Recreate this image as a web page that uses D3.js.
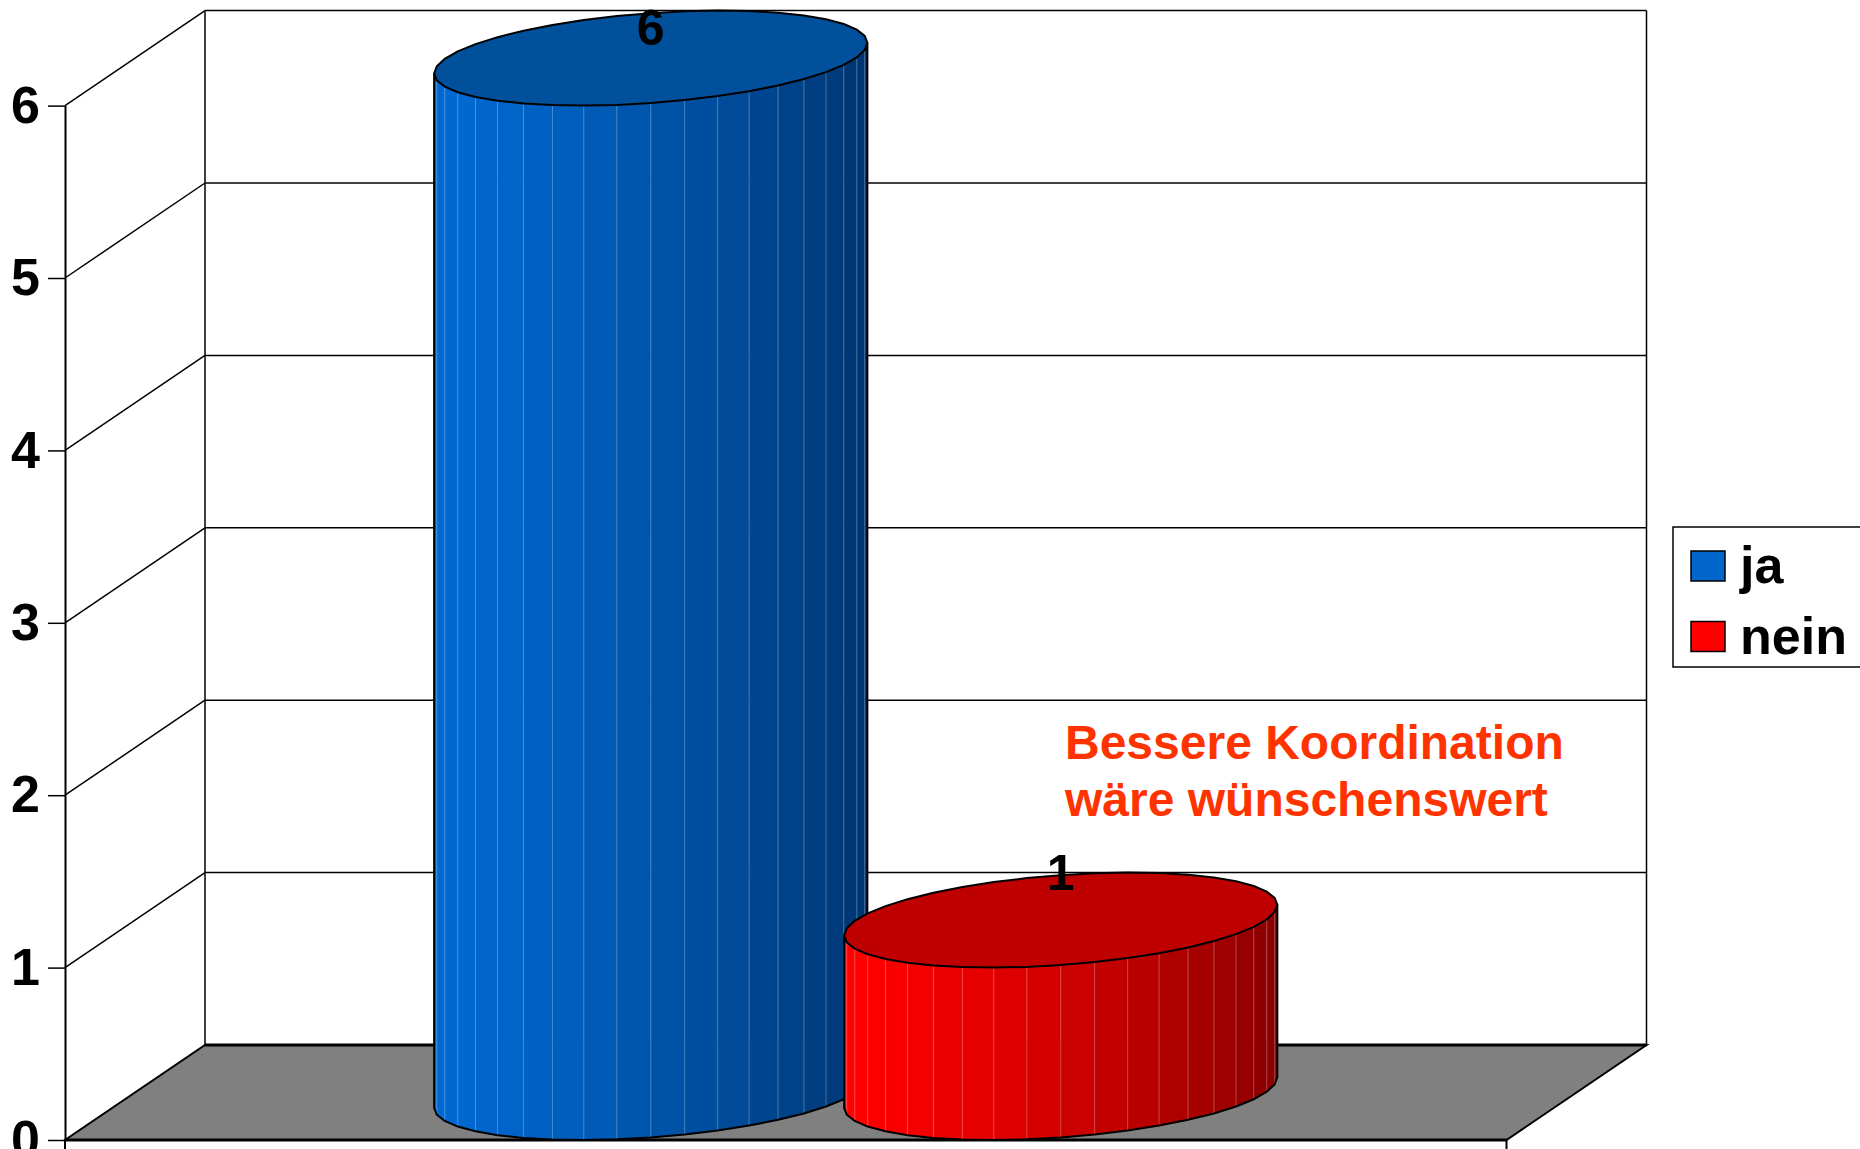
<!DOCTYPE html>
<html>
<head>
<meta charset="utf-8">
<script src="https://cdn.jsdelivr.net/npm/d3@7"></script>
<style>
  body { margin: 0; background: #fff; }
  svg { display: block; font-family: "Liberation Sans", Arial, sans-serif; font-weight: bold; }
</style>
</head>
<body>
<div id="chart"></div>
<script>
const series = ["ja", "nein"];
const values = [6, 1];
const yTicks = [0, 1, 2, 3, 4, 5, 6];
const note = ["Bessere Koordination", "wäre wünschenswert"];

const swatch = { ja: "#0066CC", nein: "#FF0000" };
const sideBright = { ja: "#0069D2", nein: "#FF0000" };
const sideDark = { ja: "#00336C", nein: "#860000" };
const topFill = { ja: "#00509C", nein: "#BF0000" };

const W = 1860, H = 1149;
const depth = { dx: 140, dy: 95 };

const svg = d3.select("#chart").append("svg")
    .attr("width", W)
    .attr("height", H);

const y = d3.scaleLinear().domain([0, 6]).range([1140, 105.6]);
const x = d3.scaleBand().domain(series).range([65, 1506.5])
    .paddingInner(0).paddingOuter(0.758);

const x0 = 65, x1 = 1506.5;
const proj = (px, d, v) => [px + d * depth.dx, y(v) - d * depth.dy];

// floor
const floor = [proj(x0, 0, 0), proj(x1, 0, 0), proj(x1, 1, 0), proj(x0, 1, 0)];
svg.append("path")
    .attr("d", d3.line()(floor) + "Z")
    .attr("fill", "#808080")
    .attr("stroke", "#000")
    .attr("stroke-width", 2);

// back wall gridlines
svg.selectAll(".grid")
    .data(yTicks.filter(v => v > 0))
    .join("line")
    .attr("x1", proj(x0, 1, 0)[0])
    .attr("x2", proj(x1, 1, 0)[0])
    .attr("y1", d => proj(x0, 1, d)[1])
    .attr("y2", d => proj(x0, 1, d)[1])
    .attr("stroke", "#000")
    .attr("stroke-width", 1.5);

// side wall gridlines
svg.selectAll(".side")
    .data(yTicks.filter(v => v > 0))
    .join("line")
    .attr("x1", d => proj(x0, 0, d)[0])
    .attr("y1", d => proj(x0, 0, d)[1])
    .attr("x2", d => proj(x0, 1, d)[0])
    .attr("y2", d => proj(x0, 1, d)[1])
    .attr("stroke", "#000")
    .attr("stroke-width", 1.5);

// back wall verticals + floor back edge
[x0, x1].forEach(px => {
  svg.append("line")
      .attr("x1", proj(px, 1, 0)[0]).attr("x2", proj(px, 1, 0)[0])
      .attr("y1", proj(px, 1, 0)[1]).attr("y2", proj(px, 1, 6)[1])
      .attr("stroke", "#000").attr("stroke-width", 1.5);
});
svg.append("line")
    .attr("x1", proj(x0, 1, 0)[0]).attr("x2", proj(x1, 1, 0)[0])
    .attr("y1", proj(x0, 1, 0)[1]).attr("y2", proj(x0, 1, 0)[1])
    .attr("stroke", "#000").attr("stroke-width", 3);

// front floor edge and category ticks
svg.append("line")
    .attr("x1", x0).attr("x2", x1)
    .attr("y1", y(0)).attr("y2", y(0))
    .attr("stroke", "#000").attr("stroke-width", 3);
[x0, x1].forEach(px => {
  svg.append("line")
      .attr("x1", px).attr("x2", px)
      .attr("y1", y(0)).attr("y2", y(0) + 17)
      .attr("stroke", "#000").attr("stroke-width", 2);
});

// y axis
const yAxis = svg.append("g")
    .attr("transform", `translate(${x0},0)`)
    .call(d3.axisLeft(y).tickValues(yTicks).tickFormat(d3.format("d"))
      .tickSize(17).tickSizeOuter(0).tickPadding(8));
yAxis.select(".domain").attr("stroke", "#000").attr("stroke-width", 2);
yAxis.selectAll(".tick line").attr("stroke", "#000").attr("stroke-width", 1.5);
yAxis.selectAll(".tick text")
    .attr("fill", "#000")
    .attr("font-size", 52)
    .attr("font-weight", "bold")
    .attr("font-family", "'Liberation Sans', Arial, sans-serif");

// cylinders
const N = 20;
function cylinder(key, v) {
  const rx = x.bandwidth() / 2;
  const cx = x(key) + rx;
  const alpha = Math.atan2(depth.dx * 0.5, rx);
  const pt = (t, val) => proj(cx + rx * Math.cos(t), 0.5 + 0.5 * Math.sin(t), val);
  const t0 = Math.PI + alpha, t1 = 2 * Math.PI + alpha;
  const ts = d3.range(N + 1).map(i => t0 + (t1 - t0) * i / N);
  const shade = d3.scaleLinear().domain([-1, 1]).range([sideDark[key], sideBright[key]]);
  const g = svg.append("g");

  const facets = d3.range(N).map(i => {
    const ta = ts[i], tb = ts[i + 1], tm = (ta + tb) / 2;
    return { pts: [pt(ta, 0), pt(tb, 0), pt(tb, v), pt(ta, v)],
             c: shade(-0.85 * Math.cos(tm) - 0.53 * Math.sin(tm)) };
  });
  g.selectAll(".facet")
      .data(facets)
      .join("path")
      .attr("d", d => d3.line()(d.pts) + "Z")
      .attr("fill", d => d.c)
      .attr("stroke", d => d.c)
      .attr("stroke-width", 0.8);

  g.selectAll(".seam")
      .data(ts.slice(1, -1))
      .join("line")
      .attr("x1", t => pt(t, 0)[0]).attr("y1", t => pt(t, 0)[1])
      .attr("x2", t => pt(t, v)[0]).attr("y2", t => pt(t, v)[1])
      .attr("stroke", "rgba(255,255,255,0.28)")
      .attr("stroke-width", 1);

  const outline = [pt(t0, v)].concat(ts.map(t => pt(t, 0)), [pt(t1, v)]);
  g.append("path")
      .attr("d", d3.line()(outline))
      .attr("fill", "none")
      .attr("stroke", "#000")
      .attr("stroke-width", 2);

  const topPts = d3.range(2 * N).map(i => pt(t0 + i * Math.PI / N, v));
  g.append("path")
      .attr("d", d3.line()(topPts) + "Z")
      .attr("fill", topFill[key])
      .attr("stroke", "#000")
      .attr("stroke-width", 2);

  g.append("text")
      .attr("x", cx + depth.dx * 0.5)
      .attr("y", Math.max(y(v) - depth.dy + 17, 45))
      .attr("text-anchor", "middle")
      .attr("font-size", 50)
      .attr("fill", "#000")
      .text(v);
}
series.forEach((s, i) => cylinder(s, values[i]));

// annotation
svg.append("text")
    .attr("font-size", 48)
    .attr("fill", "#FF3300")
    .selectAll("tspan")
    .data(note)
    .join("tspan")
    .attr("x", 1065)
    .attr("y", (d, i) => 759 + i * 57)
    .text(d => d);

// legend
const legend = svg.append("g");
legend.append("rect")
    .attr("x", 1673).attr("y", 527)
    .attr("width", 260).attr("height", 140)
    .attr("fill", "#fff")
    .attr("stroke", "#000")
    .attr("stroke-width", 1.5);
const items = legend.selectAll(".item")
    .data(series)
    .join("g")
    .attr("transform", (d, i) => `translate(1691,${551 + i * 70.5})`);
items.append("rect")
    .attr("width", 34).attr("height", 30)
    .attr("fill", d => swatch[d])
    .attr("stroke", "#000")
    .attr("stroke-width", 1.5);
items.append("text")
    .attr("x", 49).attr("y", 32)
    .attr("font-size", 52)
    .attr("fill", "#000")
    .text(d => d);
</script>
</body>
</html>
